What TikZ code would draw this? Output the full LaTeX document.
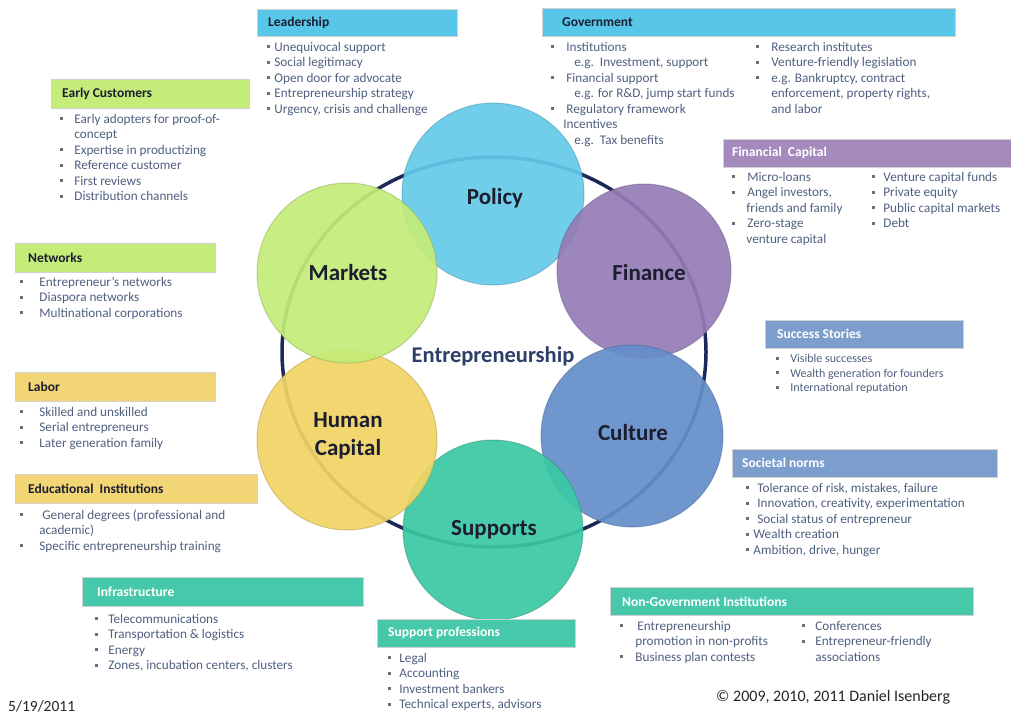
\documentclass[tikz,border=0pt]{standalone}
\usepackage{fontspec}
\setmainfont{Carlito}
\usetikzlibrary{shapes.geometric}
\definecolor{bodyc}{RGB}{80,96,128}
\definecolor{bulc}{RGB}{105,110,125}
\definecolor{darkt}{RGB}{28,30,48}
\definecolor{hblue}{RGB}{87,198,232}
\definecolor{hgreen}{RGB}{196,236,120}
\definecolor{hpurple}{RGB}{165,138,189}
\definecolor{hyellow}{RGB}{242,214,118}
\definecolor{hsteel}{RGB}{124,158,205}
\definecolor{hteal}{RGB}{72,200,170}
\definecolor{cPol}{RGB}{100,202,234}
\definecolor{cMar}{RGB}{196,236,120}
\definecolor{cFin}{RGB}{148,124,182}
\definecolor{cHum}{RGB}{241,212,100}
\definecolor{cCul}{RGB}{100,142,202}
\definecolor{cSup}{RGB}{58,200,163}
\definecolor{ringc}{RGB}{28,40,88}
\definecolor{entc}{RGB}{45,62,105}
\newcommand\bu{\textcolor{bulc}{\rule[2.6pt]{3.2pt}{3.2pt}}}
\newcommand\hdrbox[9]{%
  \node[hdr, fill=#6, anchor=north west, minimum width={(#4-#2)*1pt}, minimum height={(#5-#3)*1pt}] (#1) at (#2,#3) {};
  \node[htxt, text=#7] (#1t) at ([xshift=#8pt]#1.west) {#9};}
\tikzset{
  hdr/.style={draw=black!18, line width=0.6pt, inner sep=0pt},
  htxt/.style={anchor=west, inner sep=0pt, font=\fontsize{13.5}{16}\selectfont\bfseries},
  lst/.style={anchor=north west, inner sep=0pt, text=bodyc, font=\fontsize{13.2}{15.5}\selectfont, align=left},
  lsts/.style={lst, font=\fontsize{12}{14.6}\selectfont},
  circ/.style={circle, inner sep=0pt, minimum size=#1, fill opacity=0.92, draw opacity=0.45, line width=1pt},
  clab/.style={font=\fontsize{23}{28}\selectfont\bfseries, text=darkt, align=center, inner sep=0pt}
}
\begin{document}
\begin{tikzpicture}[x=1pt,y=-1pt]
\useasboundingbox (0,0) rectangle (1011,716);
\fill[white] (0,0) rectangle (1011,716);

% ring and circles
\node[ellipse, draw=ringc, line width=3.5pt, minimum width=424pt, minimum height=390pt, inner sep=0pt] (ring) at (494,352) {};
\node[circ=182pt, fill=cPol, draw=cPol!70!black] (cpol) at (493,194) {};
\node[circ=174pt, fill=cFin, draw=cFin!70!black] (cfin) at (644,271) {};
\node[circ=182pt, fill=cCul, draw=cCul!70!black] (ccul) at (632,436) {};
\node[circ=180pt, fill=cSup, draw=cSup!70!black] (csup) at (493,530) {};
\node[circ=180pt, fill=cHum, draw=cHum!70!black] (chum) at (347,440) {};
\node[circ=180pt, fill=cMar, draw=cMar!70!black] (cmar) at (347,273) {};

\node[clab, anchor=base] (lpol) at (495,204) {Policy};
\node[clab, anchor=base] (lmar) at (348,280) {Markets};
\node[clab, anchor=base] (lfin) at (649,280) {Finance};
\node[clab] (lhum) at (348,436) {Human\\Capital};
\node[clab, anchor=base] (lcul) at (633,440) {Culture};
\node[clab, anchor=base] (lsup) at (494,535) {Supports};
\node[anchor=base, inner sep=0pt, text=entc, font=\fontsize{22.5}{26}\selectfont\bfseries] (lent) at (493,362) {Entrepreneurship};

% header boxes
\hdrbox{hLead}{257}{9}{457}{36}{hblue}{darkt}{11}{Leadership}
\hdrbox{hGov}{542}{8}{955}{36}{hblue}{darkt}{20}{Government}
\hdrbox{hEarly}{51}{79}{249}{108}{hgreen}{darkt}{11}{Early Customers}
\hdrbox{hFin}{723}{139}{1011}{167}{hpurple}{white}{9}{Financial\ \ Capital}
\hdrbox{hNet}{15}{243}{215}{272}{hgreen}{darkt}{13}{Networks}
\hdrbox{hLab}{15}{372}{215}{401}{hyellow}{darkt}{13}{Labor}
\hdrbox{hEdu}{15}{474}{257}{503}{hyellow}{darkt}{13}{Educational\ \ Institutions}
\hdrbox{hSuc}{765}{320}{963}{348}{hsteel}{white}{12}{Success Stories}
\hdrbox{hSoc}{732}{449}{997}{477}{hsteel}{white}{10}{Societal norms}
\hdrbox{hInf}{82}{577}{363}{606}{hteal}{white}{15}{Infrastructure}
\hdrbox{hSup}{377}{619}{575}{647}{hteal}{white}{11}{Support professions}
\hdrbox{hNgo}{610}{587}{973}{615}{hteal}{white}{12}{Non-Government Institutions}

% lists
\node[lst] (lLead) at (267,40) {\begin{tabular}{@{}l@{\hspace{4pt}}l@{}}
\bu & Unequivocal support\\
\bu & Social legitimacy\\
\bu & Open door\ for advocate\\
\bu & Entrepreneurship\ strategy\\
\bu & Urgency, crisis and challenge
\end{tabular}};

\node[lst] (lEarly) at (60,112) {\begin{tabular}{@{}l@{\hspace{11pt}}l@{}}
\bu & Early adopters\ for proof-of-\\
 & concept\\
\bu & Expertise in productizing\\
\bu & Reference customer\\
\bu & First reviews\\
\bu & Distribution\ channels
\end{tabular}};

\node[lst] (lGov1) at (551,40) {\begin{tabular}{@{}l@{\hspace{12pt}}l@{}}
\bu & Institutions\\
 & \hspace{8pt}e.g.\ \ Investment, support\\
\bu & Financial support\\
 & \hspace{8pt}e.g. for R\&D, jump start funds\\
\bu & Regulatory framework\\
 & \hspace{-3pt}Incentives\\
 & \hspace{8pt}e.g.\ \ Tax benefits
\end{tabular}};

\node[lst] (lGov2) at (756,40) {\begin{tabular}{@{}l@{\hspace{12pt}}l@{}}
\bu & Research institutes\\
\bu & Venture-friendly legislation\\
\bu & e.g. Bankruptcy, contract\\
 & enforcement, property rights,\\
 & and labor
\end{tabular}};

\node[lst] (lFin1) at (732,170) {\begin{tabular}{@{}l@{\hspace{12pt}}l@{}}
\bu & Micro-loans\\
\bu & Angel investors,\\
 & \hspace{-1pt}friends and family\\
\bu & Zero-stage\\
 & \hspace{-1pt}venture capital
\end{tabular}};

\node[lst] (lFin2) at (872,170) {\begin{tabular}{@{}l@{\hspace{8pt}}l@{}}
\bu & Venture capital funds\\
\bu & Private equity\\
\bu & Public capital markets\\
\bu & Debt
\end{tabular}};

\node[lst] (lNet) at (20,275) {\begin{tabular}{@{}l@{\hspace{16pt}}l@{}}
\bu & Entrepreneur's\ networks\\
\bu & Diaspora networks\\
\bu & Multinational corporations
\end{tabular}};

\node[lst] (lLab) at (20,405) {\begin{tabular}{@{}l@{\hspace{16pt}}l@{}}
\bu & Skilled and unskilled\\
\bu & Serial entrepreneurs\\
\bu & Later generation family
\end{tabular}};

\node[lst] (lEdu) at (20,508) {\begin{tabular}{@{}l@{\hspace{16pt}}l@{}}
\bu & \hspace{3pt}General degrees\ (professional\ and\\
 & academic)\\
\bu & Specific entrepreneurship\ training
\end{tabular}};

\node[lsts] (lSuc) at (776,352) {\begin{tabular}{@{}l@{\hspace{11pt}}l@{}}
\bu & Visible successes\\
\bu & Wealth generation for founders\\
\bu & International reputation
\end{tabular}};

\node[lst] (lSoc) at (746,481) {\begin{tabular}{@{}l@{\hspace{8pt}}l@{}}
\bu & Tolerance of risk, mistakes, failure\\
\bu & Innovation,\ creativity, experimentation\\
\bu & Social status of entrepreneur\\
\bu & \hspace{-4pt}Wealth creation\\
\bu & \hspace{-4pt}Ambition, drive, hunger
\end{tabular}};

\node[lst] (lInf) at (95,612) {\begin{tabular}{@{}l@{\hspace{10pt}}l@{}}
\bu & Telecommunications\\
\bu & Transportation\ \& logistics\\
\bu & Energy\\
\bu & Zones, incubation\ centers,\ clusters
\end{tabular}};

\node[lst] (lSup) at (388,651) {\begin{tabular}{@{}l@{\hspace{8pt}}l@{}}
\bu & Legal\\
\bu & Accounting\\
\bu & Investment bankers\\
\bu & Technical experts, advisors
\end{tabular}};

\node[lst] (lNgo1) at (620,619) {\begin{tabular}{@{}l@{\hspace{12pt}}l@{}}
\bu & \hspace{2pt}Entrepreneurship\\
 & promotion\ in non-profits\\
\bu & Business plan contests
\end{tabular}};

\node[lst] (lNgo2) at (802,619) {\begin{tabular}{@{}l@{\hspace{10pt}}l@{}}
\bu & Conferences\\
\bu & Entrepreneur-friendly\\
 & associations
\end{tabular}};

% footer
\node[anchor=west, inner sep=0pt, text=black!85, font=\fontsize{16}{19}\selectfont] (copy) at (716,697) {© 2009,\ 2010,\ 2011 Daniel Isenberg};
\node[anchor=west, inner sep=0pt, text=black!85, font=\fontsize{15.5}{18}\selectfont] (date) at (8,706) {5/19/2011};
\end{tikzpicture}
\end{document}
